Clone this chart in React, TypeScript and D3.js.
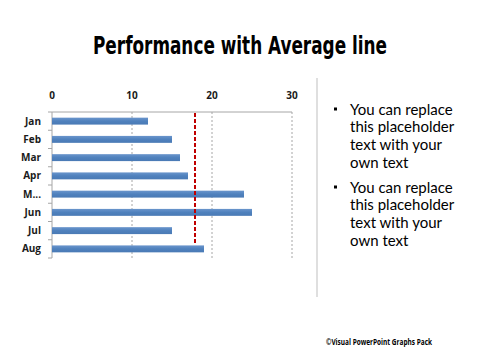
import React from "react";
import * as d3 from "d3";

const months = ["Jan", "Feb", "Mar", "Apr", "May", "Jun", "Jul", "Aug"];
const monthLabels = ["Jan", "Feb", "Mar", "Apr", "M...", "Jun", "Jul", "Aug"];
const performance = [12, 15, 16, 17, 24, 25, 15, 19];
const xTicks = [0, 10, 20, 30];
const bulletLines = [
  ["You can replace", "this placeholder", "text with your", "own text"],
  ["You can replace", "this placeholder", "text with your", "own text"],
];

export default function App() {
  const W = 480, H = 360;
  const plot = { left: 52, right: 292, top: 112, bottom: 258 };

  const x = d3.scaleLinear().domain([0, 30]).range([plot.left, plot.right]);
  const y = d3.scaleBand().domain(months).range([plot.top, plot.bottom]).paddingInner(0.62).paddingOuter(0.31);

  const avg = d3.mean(performance) as number;
  const lastBar = y(months[months.length - 1]) as number;

  const bodyFont = "'Open Sans', 'Noto Sans', sans-serif";
  const textFont = "Lato, 'Open Sans', sans-serif";

  return (
    <svg width={W} height={H} style={{ position: "absolute", left: 0, top: 0, background: "#fff" }}>
      <defs>
        <linearGradient id="barFill" x1="0" y1="0" x2="0" y2="1">
          <stop offset="0" stopColor="#6a95cc" />
          <stop offset="0.5" stopColor="#4f81bd" />
          <stop offset="1" stopColor="#4a7ab5" />
        </linearGradient>
      </defs>

      {/* title */}
      <text x={240} y={54} textAnchor="middle" fontFamily="'Liberation Sans Narrow', 'DejaVu Sans Condensed', 'Roboto', sans-serif"
        fontWeight="bold" fontSize={24} textLength={294} lengthAdjust="spacingAndGlyphs" fill="#000">
        Performance with Average line
      </text>

      {/* gridlines */}
      {xTicks.filter(t => t > 0).map(t => (
        <line key={"g" + t} x1={x(t)} x2={x(t)} y1={plot.top} y2={plot.bottom} stroke="#a6a6a6" strokeWidth={1} strokeDasharray="2,2" />
      ))}

      {/* top axis */}
      <line x1={plot.left} x2={plot.right} y1={plot.top} y2={plot.top} stroke="#a6a6a6" />
      {xTicks.map(t => (
        <text key={"t" + t} x={x(t)} y={99} textAnchor="middle" fontFamily={bodyFont} fontWeight="bold" fontSize={10} fill="#1a1a1a">
          {t}
        </text>
      ))}

      {/* left axis */}
      <line x1={plot.left} x2={plot.left} y1={plot.top} y2={plot.bottom} stroke="#a6a6a6" />
      {d3.range(months.length + 1).map(i => {
        const yy = plot.top + (i * (plot.bottom - plot.top)) / months.length;
        return <line key={"k" + i} x1={plot.left - 4} x2={plot.left} y1={yy} y2={yy} stroke="#a6a6a6" />;
      })}
      {months.map((m, i) => (
        <text key={"m" + m} x={41} y={(y(m) as number) + y.bandwidth() / 2 + 3.5} textAnchor="end" fontFamily={bodyFont} fontWeight="bold" fontSize={10} fill="#1a1a1a">
          {monthLabels[i]}
        </text>
      ))}

      {/* bars */}
      {months.map((m, i) => (
        <rect key={"b" + m} x={x(0)} y={y(m)} width={x(performance[i]) - x(0)} height={y.bandwidth()} fill="url(#barFill)" />
      ))}

      {/* average line */}
      <line x1={x(avg)} x2={x(avg)} y1={plot.top + 1} y2={lastBar - 1} stroke="#c00000" strokeWidth={2} strokeDasharray="4,2" />

      {/* separator */}
      <line x1={317} x2={317} y1={78} y2={297} stroke="#bfbfbf" strokeWidth={1} />

      {/* bullets */}
      {bulletLines.map((lines, bi) => {
        const y0 = 114.5 + bi * 78;
        return (
          <g key={"bl" + bi}>
            <rect x={334} y={y0 - 7} width={3} height={3} fill="#000" />
            {lines.map((ln, li) => (
              <text key={li} x={350} y={y0 + li * 17.8} fontFamily={textFont} fontSize={15} fill="#000">
                {ln}
              </text>
            ))}
          </g>
        );
      })}

      {/* footer */}
      <text x={326} y={345} fontFamily={bodyFont} fontWeight="bold" fontSize={9.5} textLength={106} lengthAdjust="spacingAndGlyphs" fill="#000">
        ©Visual PowerPoint Graphs Pack
      </text>
    </svg>
  );
}
